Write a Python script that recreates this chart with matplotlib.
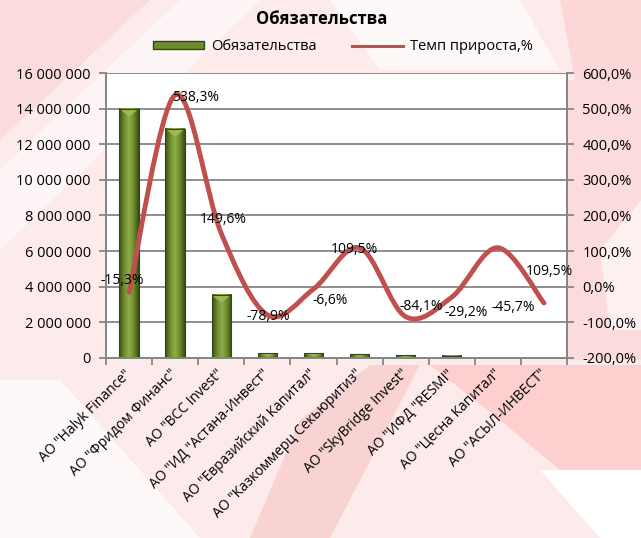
import numpy as np
import matplotlib.pyplot as plt
from matplotlib.path import Path
from matplotlib.patches import PathPatch, Polygon, Rectangle
from matplotlib.lines import Line2D
from matplotlib.colors import LinearSegmentedColormap

plt.rcParams['font.family'] = ['Open Sans', 'DejaVu Sans']

# данные
names = ['АО "Halyk Finance"', 'АО "Фридом Финанс"', 'АО "BCC Invest"',
         'АО "ИД "Астана-Инвест"', 'АО "Евразийский Капитал"',
         'АО "Казкоммерц Секьюритиз"', 'АО "SkyBridge Invest"',
         'АО "ИФД "RESMI"', 'АО "Цесна Капитал"', 'АО "АСЫЛ-ИНВЕСТ"']
liabilities = [14000000, 12870000, 3550000, 280000, 270000, 220000,
               150000, 120000, 8000, 5000]
growth = [-15.3, 538.3, 149.6, -78.9, -6.6, 109.5, -84.1, -29.2, 109.5, -45.7]
growth_labels = ['-15,3%', '538,3%', '149,6%', '-78,9%', '-6,6%', '109,5%',
                 '-84,1%', '-29,2%', '-45,7%', '109,5%']
left_ticks = [0, 2000000, 4000000, 6000000, 8000000, 10000000, 12000000, 14000000, 16000000]
right_ticks = [-200, -100, 0, 100, 200, 300, 400, 500, 600]

fig = plt.figure(figsize=(6.41, 5.38), dpi=100)
fig.patch.set_facecolor('#fce6e6')

# фон (розовые полосы)
def bg(pts, color, alpha=1.0):
    pts = [(x / 641, 1 - y / 538) for x, y in pts]
    fig.add_artist(Polygon(pts, closed=True, transform=fig.transFigure,
                           facecolor=color, edgecolor='none', alpha=alpha, zorder=-10))

bg([(0, 0), (641, 0), (641, 538), (0, 538)], '#fdeaea')
bg([(0, 170), (180, 0), (260, 0), (0, 250)], '#ffffff', 0.6)
bg([(330, 0), (520, 0), (560, 70), (380, 70)], '#ffffff', 0.7)
bg([(560, 0), (641, 0), (641, 80), (575, 80)], '#fbd3d3', 0.8)
bg([(0, 0), (150, 0), (0, 140)], '#f9d3d3', 0.6)
bg([(430, 365), (641, 365), (641, 470), (560, 470), (500, 420)], '#fdcccc', 0.9)
bg([(540, 470), (641, 470), (641, 538), (600, 538)], '#ffffff')
bg([(0, 380), (60, 380), (200, 538), (0, 538)], '#ffffff', 0.7)
bg([(250, 538), (300, 420), (370, 365), (420, 365), (330, 538)], '#f8c8c8', 0.7)
bg([(568, 80), (641, 80), (641, 360), (568, 360)], '#fbd6d6', 0.7)
bg([(600, 250), (641, 200), (641, 330), (610, 330)], '#ffffff', 0.6)

ax = fig.add_axes([0.1654, 0.3346, 0.7192, 0.5297])
ax.set_facecolor('white')
ax2 = ax.twinx()

x = np.arange(len(names))
bar_w = 0.42

# градиентные столбцы
cmap = LinearSegmentedColormap.from_list('g', ['#3a4c14', '#6d8c2e', '#8fae4a', '#6d8c2e', '#3a4c14'])
grad = np.linspace(0, 1, 64).reshape(1, -1)
for xi, h in zip(x, liabilities):
    x0, x1 = xi - bar_w / 2, xi + bar_w / 2
    ax.imshow(grad, extent=[x0, x1, 0, h], aspect='auto', cmap=cmap, zorder=2,
              interpolation='bilinear')
    d = min(450000, h * 0.6)
    ax.add_patch(Polygon([(x0, h), (x1, h), (xi, h - d)], closed=True,
                         facecolor='#9cbb58', edgecolor='none', zorder=3))
    ax.add_patch(Polygon([(x0, 0), (x0, h), (x1, h), (x1, 0)], closed=True,
                         facecolor='none', edgecolor='#34451a', lw=0.8, zorder=3))

ax.set_xlim(-0.5, len(names) - 0.5)
ax.set_ylim(0, 16000000)
ax.set_yticks(left_ticks)
ax.set_yticklabels(['{:,}'.format(v).replace(',', ' ') for v in left_ticks], fontsize=10.5)
ax.set_xticks(np.arange(-0.5, len(names) + 0.5, 1.0), minor=False)
ax.set_xticklabels([])
ax.set_xticks(x, minor=True)
ax.set_xticklabels(names, minor=True, rotation=45, ha='right', va='center',
                   rotation_mode='anchor', fontsize=10)
ax.tick_params(axis='x', which='minor', length=0, pad=10)
ax.tick_params(axis='x', which='major', length=5, color='#868686', width=1.3)
ax.tick_params(axis='y', length=5, color='#868686', width=1.3, pad=6)
ax.yaxis.grid(True, color='#868686', lw=1.3, zorder=0)
ax.set_axisbelow(True)
ax.spines['top'].set_visible(False)
ax2.spines['top'].set_visible(False)
for s in ['left', 'right', 'bottom']:
    for a in (ax, ax2):
        a.spines[s].set_color('#868686')
        a.spines[s].set_linewidth(1.3)

# сглаженная линия (Catmull-Rom)
pts = np.column_stack([x, growth]).astype(float)
verts = [tuple(pts[0])]
codes = [Path.MOVETO]
n = len(pts)
for i in range(n - 1):
    p0 = pts[max(i - 1, 0)]
    p1 = pts[i]
    p2 = pts[i + 1]
    p3 = pts[min(i + 2, n - 1)]
    c1 = p1 + (p2 - p0) / 6
    c2 = p2 - (p3 - p1) / 6
    verts += [tuple(c1), tuple(c2), tuple(p2)]
    codes += [Path.CURVE4] * 3
ax2.add_patch(PathPatch(Path(verts, codes), facecolor='none', edgecolor='#c0504d',
                        lw=3.5, capstyle='round', zorder=5))
ax2.set_ylim(-200, 600)
ax2.set_yticks(right_ticks)
ax2.set_yticklabels(['{:.1f}%'.format(v).replace('.', ',') for v in right_ticks], fontsize=10.5)
ax2.tick_params(axis='y', length=5, color='#868686', width=1.3, pad=6)

offsets = [(-7, 12), (20, -3), (2, 14), (1, -2), (17, -11), (-5, -2),
           (16, 10), (14, -15), (15, -60), (5, 32)]
for xi, g, lab, off in zip(x, growth, growth_labels, offsets):
    ax2.annotate(lab, (xi, g), xytext=off, textcoords='offset pixels',
                 ha='center', va='center', fontsize=10, zorder=6)

# легенда
h1 = Rectangle((0, 0), 1, 1, facecolor='#6d8c2e', edgecolor='#34451a')
h2 = Line2D([0], [0], color='#c0504d', lw=2.2)
fig.legend([h1, h2], ['Обязательства', 'Темп прироста,%'], loc='center',
           bbox_to_anchor=(0.535, 0.913), ncol=2, frameon=False, fontsize=10.5,
           handlelength=3.5, handleheight=0.5, columnspacing=2.4, handletextpad=0.5)

fig.text(0.502, 0.964, 'Обязательства', ha='center', va='center',
         fontsize=12, fontweight='bold')

fig.savefig('out.png', dpi=100, facecolor=fig.get_facecolor())
